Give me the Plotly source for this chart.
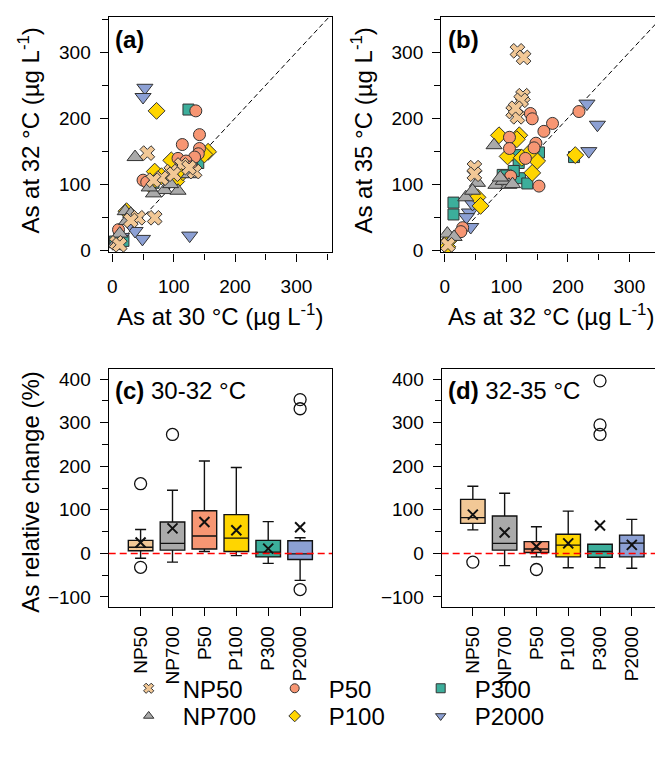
import plotly.graph_objects as go

# The page body adds an 8 px margin, so the figure is 8 px smaller and every
# reference pixel position is shifted by OFF.
OFF = 8
W, H = 663 - OFF, 758 - OFF
FONT = "Liberation Sans, Arial, sans-serif"

series_names = ["NP50", "NP700", "P50", "P100", "P300", "P2000"]
series_colors = ["#F2C896", "#AAAAAA", "#F79673", "#FFD500", "#3CAE9B", "#8CA0D4"]
series_symbols = ["x", "triangle-up", "circle", "diamond", "square", "triangle-down"]
series_sizes = [13, 14, 12, 13, 11, 14]

# ---- panel (a): As at 30 °C (x) vs As at 32 °C (y), µg/L ----
a_np50_x = [57, 113, 134, 96, 80, 67, 69, 42, 7, 12, 125, 100, 30]
a_np50_y = [147, 129, 119, 119, 109, 106, 49, 49, 11, 8, 125, 115, 45]
a_np700_x = [37, 85, 107, 67, 21, 23, 4, 60, 95, 125, 30, 12]
a_np700_y = [141, 91, 90, 86, 59, 44, 9, 95, 100, 115, 55, 25]
a_p50_x = [136, 142, 114, 142, 140, 107, 134, 50, 56, 10, 120, 128]
a_p50_y = [211, 175, 160, 154, 146, 139, 141, 106, 103, 31, 135, 126]
a_p100_x = [72, 156, 96, 104, 69, 61, 23, 115, 150, 80]
a_p100_y = [211, 149, 136, 104, 119, 99, 59, 118, 145, 112]
a_p300_x = [124, 140, 126, 67, 18, 4, 130, 118, 100]
a_p300_y = [213, 132, 119, 102, 14, 13, 125, 130, 115]
a_p2000_x = [53, 50, 126, 49, 37, 28, 15, 8]
a_p2000_y = [246, 232, 22, 17, 29, 40, 20, 10]

# ---- panel (b): As at 32 °C (x) vs As at 35 °C (y), µg/L ----
b_np50_x = [118, 128, 127, 124, 111, 118, 48, 48, 115, 5]
b_np50_y = [302, 292, 234, 227, 210, 202, 125, 115, 215, 8]
b_np700_x = [80, 83, 104, 53, 34, 4, 95, 110, 90, 15, 45]
b_np700_y = [159, 99, 99, 102, 80, 25, 105, 100, 110, 20, 90]
b_p50_x = [218, 139, 142, 175, 161, 105, 105, 148, 145, 131, 107, 153, 29, 26]
b_p50_y = [210, 207, 199, 192, 180, 171, 154, 162, 155, 139, 112, 97, 34, 28]
b_p100_x = [88, 121, 117, 102, 150, 142, 212, 53, 58, 7, 4, 140, 125]
b_p100_y = [174, 174, 168, 142, 135, 117, 144, 80, 67, 15, 5, 150, 140]
b_p300_x = [14, 14, 115, 94, 122, 134, 210, 153, 120, 112, 100]
b_p300_y = [72, 54, 144, 114, 109, 101, 141, 148, 132, 120, 113]
b_p2000_x = [231, 248, 234, 40, 42, 15, 10, 45, 35]
b_p2000_y = [222, 190, 150, 57, 35, 22, 15, 70, 50]

# ---- panel (c): relative change 30-32 °C (%) ----
c_q1 = [6, 7.5, 10, 4.5, -8, -14]
c_median = [14, 23, 40, 35, 3, -1]
c_q3 = [30, 72, 98, 89, 30, 29]
c_low = [-11, -20, 4.5, -5, -23, -62]
c_high = [55, 145, 212, 197, 73, 36]
c_mean = [25, 57.5, 72, 53, 11, 60]
c_out_cat = ["NP50", "NP50", "NP700", "P2000", "P2000", "P2000"]
c_out_val = [160, -32, 273, 353, 332, -83]

# ---- panel (d): relative change 32-35 °C (%) ----
d_q1 = [69, 7.5, 2, -8, -9, -8]
d_median = [82, 23, 10, 19, 4.5, 23.5]
d_q3 = [124, 86, 27, 44, 21, 42]
d_low = [54, -28, -8, -33, -33, -34]
d_high = [154, 138, 61, 97, 21, 78]
d_mean = [89, 48, 16, 23, 64, 19.5]
d_out_cat = ["NP50", "P50", "P300", "P300", "P300"]
d_out_val = [-20, -37, 396, 295, 273]

a_data = [(a_np50_x, a_np50_y), (a_np700_x, a_np700_y), (a_p50_x, a_p50_y),
          (a_p100_x, a_p100_y), (a_p300_x, a_p300_y), (a_p2000_x, a_p2000_y)]
b_data = [(b_np50_x, b_np50_y), (b_np700_x, b_np700_y), (b_p50_x, b_p50_y),
          (b_p100_x, b_p100_y), (b_p300_x, b_p300_y), (b_p2000_x, b_p2000_y)]


def fx(px):
    return (px - OFF) / W


def fy(py):
    return 1 - (py - OFF) / H


fig = go.Figure()

draw_order = [5, 4, 3, 2, 1, 0]
for (xa, ya), data in (("x", "y"), a_data), (("x2", "y2"), b_data):
    for i in draw_order:
        xs, ys = data[i]
        fig.add_trace(go.Scatter(
            x=xs, y=ys, xaxis=xa, yaxis=ya, mode="markers", showlegend=False,
            marker=dict(symbol=series_symbols[i], size=series_sizes[i],
                        color=series_colors[i],
                        line=dict(color="#333333", width=1))))


def add_boxes(xa, ya, q1, med, q3, low, high, mean, out_cat, out_val):
    for i, name in enumerate(series_names):
        fig.add_trace(go.Box(
            x=[name], q1=[q1[i]], median=[med[i]], q3=[q3[i]],
            lowerfence=[low[i]], upperfence=[high[i]],
            xaxis=xa, yaxis=ya, width=0.77, whiskerwidth=0.45,
            fillcolor=series_colors[i], boxpoints=False,
            line=dict(color="#111111", width=1.4), showlegend=False,
            hoverinfo="skip"))
    fig.add_trace(go.Scatter(
        x=series_names, y=mean, xaxis=xa, yaxis=ya, mode="markers",
        showlegend=False,
        marker=dict(symbol="x-thin", size=10, color="#111111",
                    line=dict(color="#111111", width=2))))
    fig.add_trace(go.Scatter(
        x=out_cat, y=out_val, xaxis=xa, yaxis=ya, mode="markers",
        showlegend=False,
        marker=dict(symbol="circle-open", size=12, color="#111111",
                    line=dict(color="#111111", width=1.3))))


add_boxes("x3", "y3", c_q1, c_median, c_q3, c_low, c_high, c_mean, c_out_cat, c_out_val)
add_boxes("x4", "y4", d_q1, d_median, d_q3, d_low, d_high, d_mean, d_out_cat, d_out_val)

# legend entries (two rows)
legend_rows = {"legend": [0, 2, 4], "legend2": [1, 3, 5]}
for lg, idxs in legend_rows.items():
    for i in idxs:
        fig.add_trace(go.Scatter(
            x=[None], y=[None], xaxis="x", yaxis="y", mode="markers",
            name=series_names[i], legend=lg, showlegend=True,
            marker=dict(symbol=series_symbols[i], size=9,
                        color=series_colors[i],
                        line=dict(color="#333333", width=1))))

minor_ticks = dict(dtick=50, ticks="outside", ticklen=6, tickwidth=1.3, tickcolor="black")
axis_common = dict(showline=True, mirror=True, linecolor="black", linewidth=1.3,
                   ticks="outside", ticklen=8, tickwidth=1.3, tickcolor="black",
                   showgrid=False, zeroline=False,
                   tickfont=dict(family=FONT, size=19, color="black"))

legend_common = dict(orientation="h", xanchor="left", yanchor="middle",
                     itemwidth=58, entrywidth=73,
                     font=dict(family=FONT, size=24, color="black"),
                     bgcolor="rgba(0,0,0,0)", tracegroupgap=0)

fig.update_layout(
    width=W, height=H, margin=dict(l=0, r=0, t=0, b=0),
    plot_bgcolor="white", paper_bgcolor="white",
    font=dict(family=FONT, size=19, color="black"),
    xaxis=dict(domain=[fx(107), fx(331)], anchor="y", range=[-6, 358], dtick=100, tick0=0,
               minor=minor_ticks, ticklabelstandoff=9, **axis_common),
    yaxis=dict(domain=[fy(255), fy(17)], anchor="x", range=[-3.4, 353.4], dtick=100, tick0=0,
               minor=minor_ticks, ticklabelstandoff=5, **axis_common),
    xaxis2=dict(domain=[fx(440.5), fx(662)], anchor="y2", range=[-6, 353], dtick=100, tick0=0,
                minor=minor_ticks, ticklabelstandoff=9, **axis_common),
    yaxis2=dict(domain=[fy(255), fy(17)], anchor="x2", range=[-3.4, 353.4], dtick=100, tick0=0,
                minor=minor_ticks, ticklabelstandoff=5, **axis_common),
    xaxis3=dict(domain=[fx(107), fx(331)], anchor="y3", type="category",
                categoryorder="array", categoryarray=series_names,
                range=[-1.0, 6.0], tickangle=-90, ticklabelstandoff=3, **axis_common),
    yaxis3=dict(domain=[fy(613), fy(373)], anchor="x3", range=[-122, 423], dtick=100, tick0=0,
                minor=minor_ticks, ticklabelstandoff=5, **axis_common),
    xaxis4=dict(domain=[fx(441), fx(662)], anchor="y4", type="category",
                categoryorder="array", categoryarray=series_names,
                range=[-0.98, 5.95], tickangle=-90, ticklabelstandoff=3, **axis_common),
    yaxis4=dict(domain=[fy(613), fy(373)], anchor="x4", range=[-122, 423], dtick=100, tick0=0,
                minor=minor_ticks, ticklabelstandoff=5, **axis_common),
    legend=dict(x=fx(113), y=fy(696), **legend_common),
    legend2=dict(x=fx(113), y=fy(724), **legend_common),
)

# 1:1 lines and zero lines
for xa, ya in (("x", "y"), ("x2", "y2")):
    fig.add_shape(type="line", xref=xa, yref=ya, x0=0, y0=0, x1=400, y1=400,
                  line=dict(color="black", width=1, dash="5px,3px"), layer="below")
for xa, ya in (("x3", "y3"), ("x4", "y4")):
    fig.add_shape(type="line", xref=xa + " domain", yref=ya, x0=0, x1=1, y0=0, y1=0,
                  line=dict(color="red", width=1.5, dash="7px,4px"), layer="above")


def ann(text, x, y, angle=0, size=24, xanchor="center"):
    fig.add_annotation(text=text, x=fx(x), y=fy(y), xref="paper", yref="paper",
                       showarrow=False, textangle=angle, xanchor=xanchor, yanchor="middle",
                       font=dict(family=FONT, size=size, color="black"))


ann("<b>(a)</b>", 111, 40, xanchor="left")
ann("<b>(b)</b>", 445, 40, xanchor="left")
ann("<b>(c)</b> 30-32 °C", 111, 395, xanchor="left")
ann("<b>(d)</b> 32-35 °C", 445, 395, xanchor="left")
ann("As at 32 °C (µg L<sup>-1</sup>)", 27, 132, angle=-90)
ann("As at 35 °C (µg L<sup>-1</sup>)", 361, 132, angle=-90)
ann("As at 30 °C (µg L<sup>-1</sup>)", 219, 318)
ann("As at 32 °C (µg L<sup>-1</sup>)", 551, 318)
ann("As relative change (%)", 29, 497, angle=-90)

fig.write_html("out.html")
